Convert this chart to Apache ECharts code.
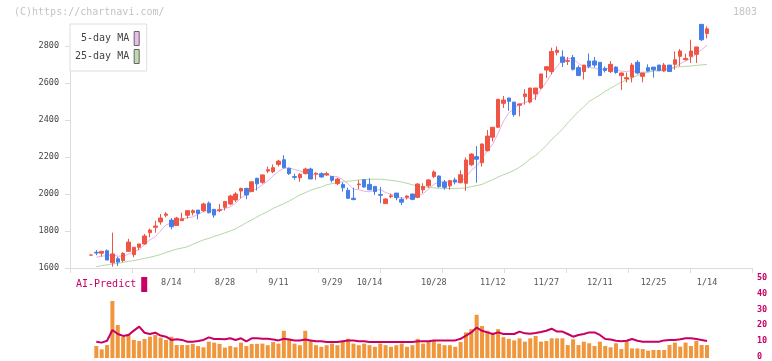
<!DOCTYPE html>
<html><head><meta charset="utf-8">
<script src="https://cdn.jsdelivr.net/npm/echarts@6/dist/echarts.min.js"></script>
<style>html,body{margin:0;padding:0;background:#fff}#c{width:772px;height:361px}</style>
</head><body><div id="c"></div>
<script>
const dates = ['7/23','7/24','7/25','7/28','7/29','7/30','7/31',
'8/1','8/4','8/5','8/6','8/7','8/8','8/12','8/13','8/14','8/15','8/18','8/19','8/20','8/21','8/22','8/25','8/26','8/27','8/28','8/29',
'9/1','9/2','9/3','9/4','9/5','9/8','9/9','9/10','9/11','9/12','9/16','9/17','9/18','9/19','9/22','9/24','9/25','9/26','9/29','9/30',
'10/1','10/2','10/3','10/6','10/7','10/8','10/9','10/10','10/14','10/15','10/16','10/17','10/20','10/21','10/22','10/23','10/24','10/27','10/28','10/29','10/30','10/31',
'11/4','11/5','11/6','11/7','11/10','11/11','11/12','11/13','11/14','11/17','11/18','11/19','11/20','11/21','11/25','11/26','11/27','11/28',
'12/1','12/2','12/3','12/4','12/5','12/8','12/9','12/10','12/11','12/12','12/15','12/16','12/17','12/18','12/19','12/22','12/23','12/24','12/25','12/26','12/29','12/30',
'1/5','1/6','1/7','1/8','1/9','1/13','1/14'];
const tickLabels = ['8/14','8/28','9/11','9/29','10/14','10/28','11/12','11/27','12/11','12/25','1/14'];
const tickIndex  = [15, 25, 35, 45, 52, 64, 75, 85, 95, 105, 115];
const priceTicks = [1600,1800,2000,2200,2400,2600,2800];
const volTicks = [0,10,20,30,40,50];

const opens = [1670,1685,1680,1693,1629,1650,1640,1690,1672,1712,1730,1791,1820,1849,1885,1859,1830,1856,1885,1899,1913,1910,1950,1917,1911,1928,1946,1968,2016,2030,2013,2085,2063,2124,2120,2160,2185,2139,2094,2088,2110,2135,2108,2110,2103,2095,2056,2052,2020,1977,2050,2077,2052,2041,1997,1948,1986,2005,1971,1982,2000,1982,2023,2044,2094,2097,2065,2044,2076,2061,2058,2158,2202,2169,2234,2307,2361,2490,2519,2497,2480,2526,2497,2541,2573,2670,2662,2766,2741,2717,2738,2683,2662,2719,2719,2712,2679,2662,2686,2640,2622,2632,2712,2636,2683,2686,2697,2665,2697,2701,2744,2726,2744,2755,2917,2868];
const closes = [1670,1681,1690,1643,1676,1632,1679,1740,1712,1730,1773,1805,1827,1870,1892,1823,1870,1866,1910,1910,1895,1946,1899,1886,1915,1960,1989,2000,2030,1995,2066,2055,2103,2131,2142,2178,2142,2110,2090,2106,2135,2081,2112,2092,2110,2074,2081,2034,1977,1970,2054,2038,2023,2013,1993,1973,1990,1980,1956,1989,1971,2054,2040,2076,2119,2040,2036,2072,2065,2104,2184,2216,2188,2270,2313,2361,2512,2508,2501,2429,2487,2541,2573,2573,2649,2688,2770,2777,2712,2721,2674,2640,2697,2690,2697,2640,2668,2701,2657,2654,2629,2697,2654,2654,2665,2672,2668,2697,2662,2726,2773,2733,2773,2795,2834,2893];
const lows = [1668,1669,1661,1643,1607,1611,1632,1686,1658,1697,1726,1766,1791,1834,1874,1809,1827,1856,1867,1884,1863,1902,1895,1872,1902,1911,1939,1957,1977,1972,2013,2019,2055,2113,2113,2149,2138,2103,2077,2066,2106,2081,2077,2088,2099,2063,2048,2013,1973,1966,2027,2034,2020,1995,1950,1948,1977,1966,1940,1970,1966,1978,2005,2034,2085,2034,2023,2023,2052,2058,2018,2151,2061,2148,2230,2284,2357,2465,2450,2418,2420,2483,2490,2508,2566,2627,2647,2749,2686,2697,2668,2640,2619,2680,2683,2640,2657,2654,2650,2562,2603,2603,2647,2604,2661,2629,2665,2661,2662,2672,2690,2722,2708,2708,2827,2841];
const highs = [1672,1697,1690,1701,1791,1661,1686,1758,1712,1730,1784,1813,1856,1892,1903,1870,1877,1899,1910,1917,1913,1953,1960,1917,1946,1960,1996,2010,2034,2034,2066,2088,2106,2149,2160,2185,2210,2142,2110,2113,2142,2142,2117,2117,2120,2095,2088,2063,2034,2034,2074,2077,2085,2041,2038,1977,2002,2005,1983,1993,2002,2058,2058,2081,2128,2101,2076,2076,2088,2128,2198,2220,2259,2274,2346,2361,2512,2530,2519,2497,2487,2566,2573,2573,2649,2692,2791,2798,2777,2741,2752,2694,2697,2759,2741,2712,2690,2719,2690,2657,2657,2708,2723,2654,2701,2686,2697,2708,2697,2770,2784,2759,2834,2795,2917,2906];

const ma5 = [null,1658,1665,1665,1672,1664,1664,1674,1688,1699,1727,1752,1769,1801,1833,1843,1856,1864,1872,1876,1890,1905,1912,1907,1908,1921,1930,1950,1979,1995,2016,2029,2050,2070,2099,2122,2139,2141,2132,2125,2117,2104,2105,2105,2106,2094,2094,2078,2055,2027,2023,2015,2012,2020,2024,2008,1998,1990,1978,1978,1977,1990,2002,2026,2052,2066,2062,2069,2066,2063,2092,2128,2151,2192,2234,2270,2329,2393,2439,2462,2487,2493,2506,2521,2565,2605,2651,2691,2719,2734,2731,2705,2689,2684,2680,2673,2678,2679,2673,2664,2662,2668,2658,2658,2660,2668,2663,2671,2673,2685,2705,2718,2733,2758,2780,2804];
const ma25 = [null,1607,1613,1617,1622,1625,1630,1636,1640,1646,1652,1658,1665,1673,1684,1693,1702,1708,1715,1728,1740,1752,1760,1771,1780,1790,1800,1812,1828,1845,1860,1876,1892,1905,1922,1935,1948,1962,1978,1995,2007,2020,2030,2038,2050,2056,2062,2066,2069,2072,2076,2078,2080,2080,2080,2077,2074,2070,2065,2058,2050,2043,2040,2036,2033,2031,2030,2030,2030,2031,2033,2040,2045,2052,2065,2078,2092,2104,2115,2128,2145,2165,2190,2208,2235,2262,2295,2322,2350,2385,2415,2445,2472,2500,2518,2535,2555,2572,2588,2605,2615,2628,2640,2650,2658,2665,2671,2677,2682,2685,2688,2690,2692,2695,2698,2701];

const volume = [null,7.5,5.4,8.1,35.6,20.6,13.3,15,11.3,10.6,11.9,13.3,14.4,12.7,11.3,13.3,8.1,8.1,8.1,8.8,7.5,6.7,10.2,9.6,8.8,6.5,7.5,6.7,9.6,7.5,8.8,8.8,
9,8,10,9,17,12,9,8,17,11,8,7,8,9,8,10,12,9,8,9,8,7,9,8,7,8,9,7,8,12,9,10,11,9,8,8,7,10,16,18,27,20,17,15,18,13,12,11,
12.3,10.2,12.3,13.8,10.2,10.6,12.3,12.3,12.3,8.1,11.7,8.1,10.2,9.2,7.5,10.2,7.5,6.7,9.2,5.6,10.6,6.0,6.0,5.6,4.6,5.0,5.0,5.0,8.1,9.6,7.1,9.6,7.5,10.6,8.1,8.1];
const aiPredict = [null,10.2,9.6,10.8,17.5,15,13.8,14.4,17.1,19.6,15.8,15,15.8,14,13.3,11.3,11.7,11.3,10.2,10.2,10.6,11.3,12.9,11.9,11.9,11.7,12.3,11.3,12.3,10.4,12.3,12.3,
12,12,11.5,11,12,11.5,11,11,11.5,11,10.5,10.5,10,10,10,10.5,11,11,10.5,10.5,10,10,10,10,10,10,10,10,10,10.5,10.5,10.5,11,11,11,11,11,12,14,16,19,17,16,15,16,15,15,15,
16.5,15.4,15.2,15.6,16.2,17,18.3,16.5,16.5,15,13.3,14.4,15,16,16,14.4,11.9,11.5,10.8,10.4,10.8,11.9,10.8,10.2,10.2,10.2,10.2,11,11.3,11.3,11.7,12.3,12.3,11.9,11.3,10.6];

const MONO = '"DejaVu Sans Mono", monospace';
const UP = '#f05444', DOWN = '#467ee8', MAG = '#c80064';
const plain = v => String(v);
const chart = echarts.init(document.getElementById('c'));
chart.setOption({
  animation: false,
  backgroundColor: '#fff',
  graphic: [
    {type:'text', left:14, top:7, style:{text:'(C)https://chartnavi.com/', font:'10px "DejaVu Sans Mono"', fill:'#c4c4c4'}},
    {type:'text', right:15, top:7, style:{text:'1803', font:'10px "DejaVu Sans Mono"', fill:'#c4c4c4'}}
  ],
  grid: [
    {left:70, right:20, top:24, bottom:93},
    {left:88.3, width:621.4, top:24, bottom:93},
    {left:88.3, width:621.4, top:278, bottom:3},
    {left:70, right:20, top:278, bottom:3}
  ],
  xAxis: [
    {gridIndex:0, type:'value', min:0, max:11, interval:1,
     axisLine:{show:true, lineStyle:{color:'#dcdcdc'}}, axisTick:{show:true, length:5, lineStyle:{color:'#dcdcdc'}},
     axisLabel:{show:false}, splitLine:{show:false}},
    {gridIndex:1, type:'category', data:dates, boundaryGap:true,
     axisLine:{show:false}, axisTick:{show:false},
     axisLabel:{interval:(i)=>tickIndex.includes(i),
                formatter:(v,i)=>tickLabels[tickIndex.indexOf(i)] || '',
                fontFamily:MONO, fontSize:8.5, color:'#555', margin:10}},
    {gridIndex:2, type:'category', data:dates, boundaryGap:true, show:false},
    {gridIndex:3, type:'value', min:0, max:1, show:false}
  ],
  yAxis: [
    {gridIndex:0, type:'value', min:1600, max:2919,
     axisLine:{show:true, lineStyle:{color:'#dcdcdc'}},
     axisTick:{show:true, length:5, customValues:priceTicks, lineStyle:{color:'#dcdcdc'}},
     axisLabel:{customValues:priceTicks, formatter:plain, fontFamily:MONO, fontSize:8.5, color:'#444', margin:11},
     splitLine:{show:false}},
    {gridIndex:1, type:'value', min:1600, max:2919, show:false, splitLine:{show:false}},
    {gridIndex:2, type:'value', min:0, max:50, show:false, splitLine:{show:false}},
    {gridIndex:3, type:'value', min:0, max:50, position:'right',
     axisLine:{show:false}, axisTick:{show:false}, splitLine:{show:false},
     axisLabel:{customValues:volTicks, formatter:plain, fontFamily:MONO, fontSize:8.5, fontWeight:'bold', color:MAG, margin:5}}
  ],
  legend: [
    {data:[{name:'5-day MA', itemStyle:{color:'#ecbcec', borderColor:'#666', borderWidth:1}},
           {name:'25-day MA', itemStyle:{color:'#bcdcb0', borderColor:'#666', borderWidth:1}}],
     orient:'vertical', left:70, top:24, align:'right', icon:'rect', itemWidth:5, itemHeight:14, itemGap:3,
     padding:[7,7,7,5], backgroundColor:'#fff', borderColor:'#dedede', borderWidth:1, selectedMode:false,
     textStyle:{fontFamily:MONO, fontSize:10, color:'#444'}},
    {data:[{name:'AI-Predict', itemStyle:{color:MAG}}], left:76, top:277, align:'right', icon:'rect',
     itemWidth:6, itemHeight:15, padding:0, selectedMode:false,
     textStyle:{fontFamily:MONO, fontSize:10, color:MAG}}
  ],
  series: [
    {type:'candlestick', xAxisIndex:1, yAxisIndex:1, z:3, barWidth:4,
     data: dates.map((d,i)=>[opens[i], closes[i], lows[i], highs[i]]),
     itemStyle:{color:UP, color0:DOWN, borderColor:UP, borderColor0:DOWN, borderWidth:1}},
    {type:'line', name:'5-day MA', xAxisIndex:1, yAxisIndex:1, z:2, data:ma5, showSymbol:false,
     lineStyle:{color:'#e6b2e6', width:1}, itemStyle:{color:'#ecbcec'}},
    {type:'line', name:'25-day MA', xAxisIndex:1, yAxisIndex:1, z:2, data:ma25, showSymbol:false,
     lineStyle:{color:'#b2d8a4', width:1}, itemStyle:{color:'#bcdcb0'}},
    {type:'bar', xAxisIndex:2, yAxisIndex:2, data:volume, barWidth:4, itemStyle:{color:'#f0963c'}},
    {type:'line', name:'AI-Predict', xAxisIndex:2, yAxisIndex:2, data:aiPredict, showSymbol:false, z:3,
     lineStyle:{color:MAG, width:2}, itemStyle:{color:MAG}}
  ]
});
</script></body></html>
